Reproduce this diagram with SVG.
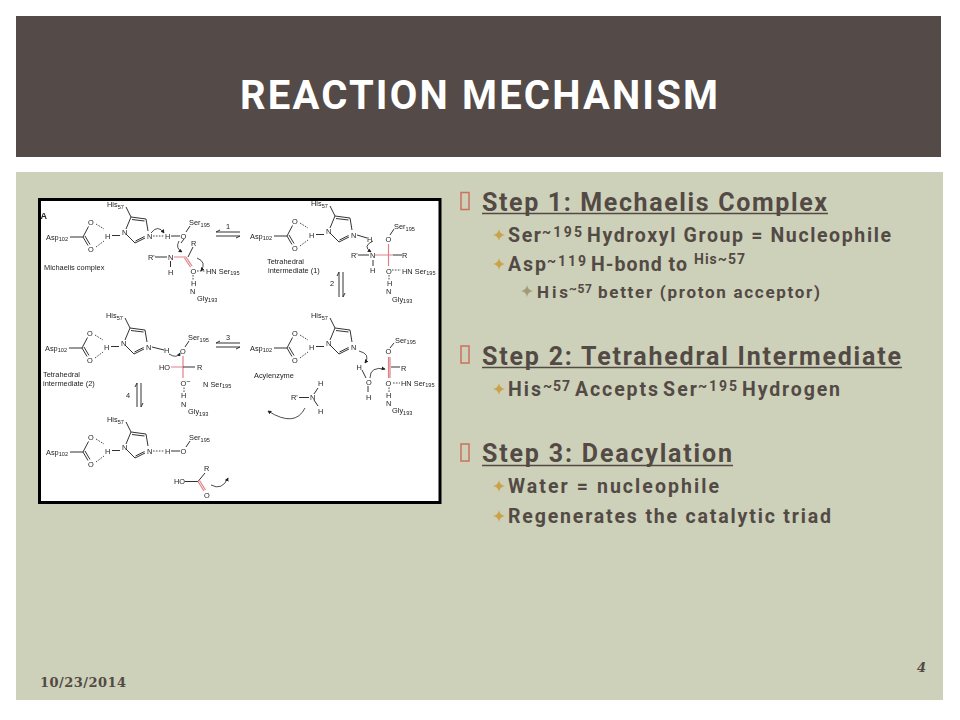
<svg xmlns="http://www.w3.org/2000/svg" width="960" height="720" viewBox="0 0 960 720">
<style>
.h1{font:bold 25px Roboto,"Liberation Sans",Arial,sans-serif;fill:#534a45}
.h2{font:bold 19.500px Roboto,"Liberation Sans",Arial,sans-serif;fill:#534a45}
.h3{font:bold 17px Roboto,"Liberation Sans",Arial,sans-serif;fill:#534a45}
.sup{font-size:14px}
.ch{font:7.400px "Liberation Sans",Arial,sans-serif;fill:#222}
.chs{font-size:5.600px}
.b{stroke:#333;stroke-width:1;fill:none}
.d{stroke:#333;stroke-width:.9;fill:none;stroke-dasharray:1.600 1.300}
.r{stroke:#e0808a;stroke-width:1.200;fill:none}
.a{stroke:#222;stroke-width:.8;fill:none;marker-end:url(#ah)}
.bx{fill:none;stroke:#c9725c;stroke-width:1.500}
.ul{stroke:#534a45;stroke-width:1.600}
</style>
<defs>
<filter id="soft" x="0" y="0" width="1" height="1"><feGaussianBlur stdDeviation="0.300"/></filter>
<marker id="ah" viewBox="0 0 6 6" refX="5" refY="3" markerWidth="5" markerHeight="5" orient="auto"><path d="M0 0L6 3L0 6Z" fill="#222"/></marker>
<path id="star" d="M0-6Q.6-.8 6 0Q.6 .8 0 6Q-.6 .8-6 0Q-.6-.8 0-6Z"/>
<g id="triad">
<path class="b" d="M70 237H83M83 237L88.500 226.500M83 237L88 245.500M85 236L90 244.500M112 235.500H120M126 229L131 217L146 219L148 231M132 219.500L144.500 221M126 234L135 243L145 238M135.500 241L144.500 236.500M131 217L126 207"/>
<path class="d" d="M96 224L104 229M96 247L104 241"/>
</g>
</defs>
<rect width="960" height="720" fill="#fff"/>
<rect id="panel" x="16" y="172" width="927" height="528" fill="#cdd1b9"/>
<g id="header"><rect x="16" y="16" width="925" height="141" fill="#544a47"/>
<text x="240" y="108.500" textLength="478" font-family="Roboto,'Liberation Sans',Arial,sans-serif" font-weight="bold" font-size="40" fill="#fff">REACTION MECHANISM</text></g>
<g id="figure">
<rect x="39.500" y="199.500" width="400.500" height="303" fill="#fff" stroke="#000" stroke-width="3"/>
<g filter="url(#soft)">
<text class="ch" x="40.500" y="219" style="font-size:9px;font-weight:bold">A</text>
<g id="t1"><use href="#triad"/>
<path class="d" d="M153 236H164"/><path class="b" d="M171 236H180M186 232L190 226M184 239L181 243"/>
<text class="ch" x="46" y="239.500">Asp<tspan class="chs" dy="1.500">102</tspan></text><text class="ch" x="107" y="207">His<tspan class="chs" dy="1.500">57</tspan></text><text class="ch" x="88" y="224.500">O</text><text class="ch" x="88" y="252">O</text><text class="ch" x="105" y="238.500">H</text><text class="ch" x="122" y="235">N</text><text class="ch" x="147" y="238.500">N</text><text class="ch" x="165" y="238.500">H</text><text class="ch" x="180.500" y="238.500">O</text><text class="ch" x="189" y="225">Ser<tspan class="chs" dy="1.500">195</tspan></text>
<path class="a" d="M151 233Q158 224 164 233"/><path class="a" d="M179 241Q175 248 182 252"/>
<text class="ch" x="44" y="270">Michaelis complex</text>
<text class="ch" x="148" y="259.500">R'</text><text class="ch" x="168" y="260">N</text><text class="ch" x="168" y="275">H</text><text class="ch" x="191" y="245.500">R</text><text class="ch" x="190.500" y="273.500">O</text><text class="ch" x="206" y="273.500">HN Ser<tspan class="chs" dy="1.500">195</tspan></text><text class="ch" x="191" y="285.500">H</text><text class="ch" x="190" y="294">N</text><text class="ch" x="197" y="300.500">Gly<tspan class="chs" dy="1.500">193</tspan></text>
<path class="b" d="M155 257H167M170.500 261V267M188 257L193 247"/><path class="r" d="M174 257H186M186 257L192 266M184.500 258L190.500 267"/><path class="d" d="M193 275V280M197 271H205"/><path class="a" d="M197 258Q207 262 201 271"/></g>
<g id="t2" transform="translate(204 -1)"><use href="#triad"/>
<path class="b" d="M153 236L163 239M186 236L190 230"/>
<text class="ch" x="46" y="239.500">Asp<tspan class="chs" dy="1.500">102</tspan></text><text class="ch" x="107" y="207">His<tspan class="chs" dy="1.500">57</tspan></text><text class="ch" x="88" y="224.500">O</text><text class="ch" x="88" y="252">O</text><text class="ch" x="105" y="238.500">H</text><text class="ch" x="122" y="235">N</text><text class="ch" x="147" y="238.500">N</text><text class="ch" x="163" y="243">H</text><text class="ch" x="181.500" y="243">O</text><text class="ch" x="190" y="230">Ser<tspan class="chs" dy="1.500">195</tspan></text></g>
<g id="t2b"><text class="ch" x="267" y="264">Tetrahedral</text><text class="ch" x="268" y="273">intermediate (1)</text>
<text class="ch" x="351" y="258">R'</text><text class="ch" x="370" y="258">N</text><text class="ch" x="370" y="273">H</text><text class="ch" x="402" y="257.500">R</text><text class="ch" x="386" y="273.500">O</text><text class="ch" x="402" y="273.500">HN Ser<tspan class="chs" dy="1.500">195</tspan></text><text class="ch" x="387" y="285.500">H</text><text class="ch" x="386" y="294">N</text><text class="ch" x="392" y="301.500">Gly<tspan class="chs" dy="1.500">193</tspan></text>
<path class="b" d="M358 255H369M373 260V266M393 255H402"/><path class="r" d="M375 255H393M388.500 244V266"/><path class="d" d="M389 275V280M392 270H401"/><path class="a" d="M373 241Q362 246 371 252"/></g>
<g id="t3" transform="translate(-1 111)"><use href="#triad"/>
<path class="b" d="M153 236L165 239"/>
<text class="ch" x="46" y="239.500">Asp<tspan class="chs" dy="1.500">102</tspan></text><text class="ch" x="107" y="207">His<tspan class="chs" dy="1.500">57</tspan></text><text class="ch" x="88" y="224.500">O</text><text class="ch" x="88" y="252">O</text><text class="ch" x="105" y="238.500">H</text><text class="ch" x="122" y="235">N</text><text class="ch" x="147" y="238.500">N</text><text class="ch" x="165" y="242">H</text><text class="ch" x="181" y="242.500">O</text><text class="ch" x="189" y="229">Ser<tspan class="chs" dy="1.500">195</tspan></text>
<path class="b" d="M186 236L190 230"/><path class="a" d="M170 243Q178 248 181 242"/></g>
<g id="t3b"><text class="ch" x="43" y="377">Tetrahedral</text><text class="ch" x="43" y="386">intermediate (2)</text>
<text class="ch" x="159" y="369.500">HO</text><text class="ch" x="197" y="369.500">R</text><text class="ch" x="180.500" y="385.500">O<tspan dy="-2">−</tspan></text><text class="ch" x="203" y="386.500">N Ser<tspan class="chs" dy="1.500">195</tspan></text><text class="ch" x="181" y="398">H</text><text class="ch" x="181" y="406.500">N</text><text class="ch" x="188" y="414">Gly<tspan class="chs" dy="1.500">193</tspan></text>
<path class="r" d="M171 367H183M183 356V378"/><path class="b" d="M183 367H195"/><path class="d" d="M184 387.500V392"/></g>
<g id="t4" transform="translate(204 111)"><use href="#triad"/>
<text class="ch" x="46" y="239.500">Asp<tspan class="chs" dy="1.500">102</tspan></text><text class="ch" x="107" y="207">His<tspan class="chs" dy="1.500">57</tspan></text><text class="ch" x="88" y="224.500">O</text><text class="ch" x="88" y="252">O</text><text class="ch" x="105" y="238.500">H</text><text class="ch" x="122" y="235">N</text><text class="ch" x="147" y="238.500">N</text><text class="ch" x="181.500" y="243">O</text><text class="ch" x="191" y="231.500">Ser<tspan class="chs" dy="1.500">195</tspan></text>
<path class="b" d="M186 237L190 232"/></g>
<g id="t4b"><text class="ch" x="254" y="378">Acylenzyme</text>
<text class="ch" x="291" y="400">R'</text><text class="ch" x="310" y="400">N</text><text class="ch" x="318" y="386">H</text><text class="ch" x="318" y="414">H</text>
<text class="ch" x="356.500" y="369.500">H</text><text class="ch" x="366" y="384.500">O</text><text class="ch" x="366" y="399.500">H</text>
<text class="ch" x="401" y="370.500">R</text><text class="ch" x="385.500" y="385.500">O</text><text class="ch" x="401" y="385.500">HN Ser<tspan class="chs" dy="1.500">195</tspan></text><text class="ch" x="386" y="397.500">H</text><text class="ch" x="386" y="406">N</text><text class="ch" x="392" y="413">Gly<tspan class="chs" dy="1.500">193</tspan></text>
<path class="b" d="M299 397.500H309M314 394L318 388M314 400L318 406M362 370L366 378M368 386V392M391 367H400"/><path class="r" d="M388.500 357V378M390 357V378"/><path class="d" d="M389 387.500V392M393 383H400"/>
<path class="a" d="M359 351Q371 354 365 363"/><path class="a" d="M370 378Q370 366 385 369"/><path class="a" d="M305 408Q295 428 268 411"/></g>
<g id="t5" transform="translate(0 215)"><use href="#triad"/>
<path class="d" d="M153 236H164"/><path class="b" d="M171 236H180M186 232L190 226"/>
<text class="ch" x="46" y="239.500">Asp<tspan class="chs" dy="1.500">102</tspan></text><text class="ch" x="107" y="207">His<tspan class="chs" dy="1.500">57</tspan></text><text class="ch" x="88" y="224.500">O</text><text class="ch" x="88" y="252">O</text><text class="ch" x="105" y="238.500">H</text><text class="ch" x="122" y="235">N</text><text class="ch" x="147" y="238.500">N</text><text class="ch" x="165" y="238.500">H</text><text class="ch" x="180.500" y="238.500">O</text><text class="ch" x="189" y="225">Ser<tspan class="chs" dy="1.500">195</tspan></text></g>
<g id="t5b"><text class="ch" x="174" y="484">HO</text><text class="ch" x="204" y="471">R</text><text class="ch" x="204" y="498">O</text>
<path class="b" d="M185 481.500H198M198 481.500L205 473"/><path class="r" d="M198 481.500L204 491M199.500 480.500L205.500 490"/><path class="a" d="M211 485Q222 491 228 478"/></g>
<g id="eq">
<text class="ch" x="226" y="229">1</text><text class="ch" x="226" y="340">3</text><text class="ch" x="330" y="286">2</text><text class="ch" x="126" y="398">4</text>
<path class="b" d="M216 232H240M216 236H240M216 232L220 230M240 236L236 238M216 343H240M216 347H240M216 343L220 341M240 347L236 349M339 272V297M343 272V297M339 272L337 276M343 297L345 293M137 383V407M141 383V407M137 383L135 387M141 407L143 403"/></g>
</g>
</g>
<g id="text">
<rect class="bx" x="461" y="192.500" width="8" height="17"/><rect class="bx" x="461" y="346" width="8" height="17"/><rect class="bx" x="461" y="444" width="8" height="17"/>
<text class="h1" y="211"><tspan x="482" textLength="345">Step 1: Mechaelis Complex</tspan></text><path class="ul" d="M482 213.500H828"/>
<use href="#star" x="499" y="235" fill="#c9a24a"/>
<text class="h2" y="241.500"><tspan x="508" textLength="33">Ser</tspan><tspan class="sup" x="542" dy="-5" textLength="40">~195</tspan> <tspan x="587" dy="5" textLength="304">Hydroxyl Group = Nucleophile</tspan></text>
<use href="#star" x="499" y="264" fill="#c9a24a"/>
<text class="h2" y="270.500"><tspan x="508" textLength="38">Asp</tspan><tspan class="sup" x="547" dy="-5" textLength="39">~119</tspan> <tspan x="591" dy="5" textLength="96">H-bond to</tspan> <tspan class="sup" x="694" dy="-7" textLength="51">His~57</tspan></text>
<use href="#star" x="527" y="291" fill="#a09a78"/>
<text class="h3" y="298"><tspan x="537" textLength="31">His</tspan><tspan class="sup" x="569" dy="-5" textLength="23" style="font-size:12px">~57</tspan> <tspan x="598" dy="5" textLength="222">better (proton acceptor)</tspan></text>
<text class="h1" y="364.500"><tspan x="482" textLength="419">Step 2: Tetrahedral Intermediate</tspan></text><path class="ul" d="M482 367.500H902"/>
<use href="#star" x="499" y="389" fill="#c9a24a"/>
<text class="h2" y="396"><tspan x="508" textLength="33">His</tspan><tspan class="sup" x="543" dy="-5" textLength="27">~57</tspan> <tspan x="575" dy="5" textLength="83">Accepts</tspan> <tspan x="663" textLength="34">Ser</tspan><tspan class="sup" x="698" dy="-5" textLength="39">~195</tspan> <tspan x="742" dy="5" textLength="98">Hydrogen</tspan></text>
<text class="h1" y="462"><tspan x="482" textLength="250">Step 3: Deacylation</tspan></text><path class="ul" d="M482 465.500H733"/>
<use href="#star" x="499" y="486" fill="#c9a24a"/>
<text class="h2" y="492.500" x="508" textLength="211">Water = nucleophile</text>
<use href="#star" x="499" y="516" fill="#c9a24a"/>
<text class="h2" y="522.500" x="508" textLength="323">Regenerates the catalytic triad</text>
</g>
<text id="date" x="40" y="686.500" textLength="86" font-family="'DejaVu Serif',serif" font-weight="bold" font-size="13" fill="#534a45">10/23/2014</text>
<text id="page" x="917" y="672" font-family="'DejaVu Serif',serif" font-weight="bold" font-style="italic" font-size="13" fill="#534a45">4</text>
</svg>
